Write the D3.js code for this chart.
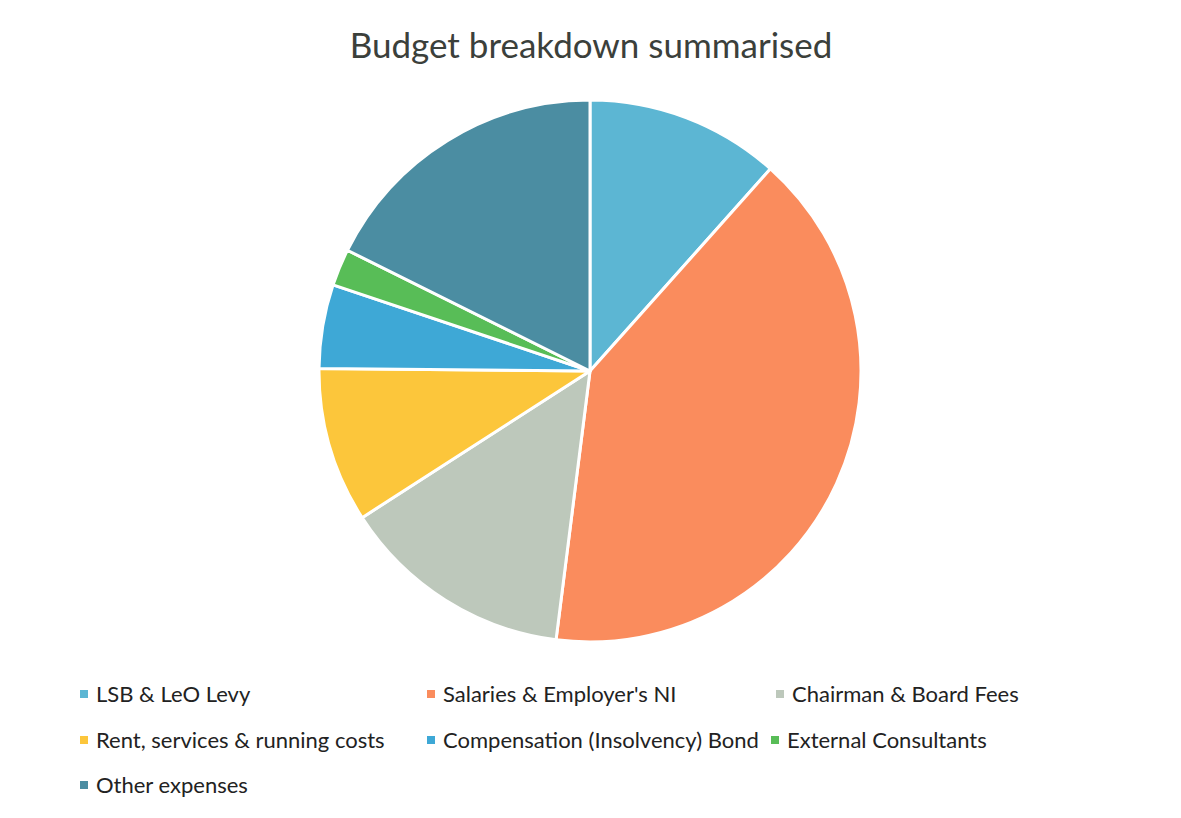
<!DOCTYPE html>
<html>
<head>
<meta charset="utf-8">
<script src="https://cdn.jsdelivr.net/npm/d3@7"></script>
<style>
  html, body { margin: 0; padding: 0; background: #ffffff; }
  svg { display: block; }
</style>
</head>
<body>
<svg id="chart" width="1181" height="818"></svg>
<script>
// Budget categories and their shares (percent of total)
const categories = [
  "LSB & LeO Levy",
  "Salaries & Employer's NI",
  "Chairman & Board Fees",
  "Rent, services & running costs",
  "Compensation (Insolvency) Bond",
  "External Consultants",
  "Other expenses"
];
const shares = [11.6, 40.4, 13.9, 9.25, 5.0, 2.2, 17.65];
const colors = ["#5cb6d3", "#fa8c5d", "#bdc8bb", "#fcc63b", "#3ea8d6", "#58bd57", "#4b8da2"];

const svg = d3.select("#chart");
const font = "Lato, 'Open Sans', 'DejaVu Sans', sans-serif";

// Title
svg.append("text")
  .attr("x", 591)
  .attr("y", 58)
  .attr("text-anchor", "middle")
  .attr("font-family", font)
  .attr("font-size", 35)
  .attr("fill", "#3b403b")
  .text("Budget breakdown summarised");

// Pie
const cx = 590, cy = 371, R = 271;
const data = categories.map((c, i) => ({ name: c, value: shares[i], color: colors[i] }));
const pie = d3.pie().value(d => d.value).sort(null);
const arc = d3.arc().innerRadius(0).outerRadius(R);

const g = svg.append("g").attr("transform", `translate(${cx},${cy})`);
g.selectAll("path")
  .data(pie(data))
  .join("path")
  .attr("d", arc)
  .attr("fill", d => d.data.color)
  .attr("stroke", "#ffffff")
  .attr("stroke-width", 3)
  .attr("stroke-linejoin", "round");

// Legend: three columns per row; the second row's last entry sits a bit closer
const rowCols = [[80, 427, 776], [80, 427, 771], [80]];
const rowY = [694, 740, 785];
const legend = svg.append("g");
data.forEach((d, i) => {
  const row = Math.floor(i / 3), col = i % 3;
  const x = rowCols[row][col], y = rowY[row];
  const item = legend.append("g").attr("transform", `translate(${x},${y})`);
  item.append("rect")
    .attr("x", 0).attr("y", -4)
    .attr("width", 8).attr("height", 8)
    .attr("fill", d.color);
  item.append("text")
    .attr("x", 16).attr("y", 8)
    .attr("font-family", font)
    .attr("font-size", 22)
    .attr("fill", "#222")
    .text(d.name);
});
</script>
</body>
</html>
